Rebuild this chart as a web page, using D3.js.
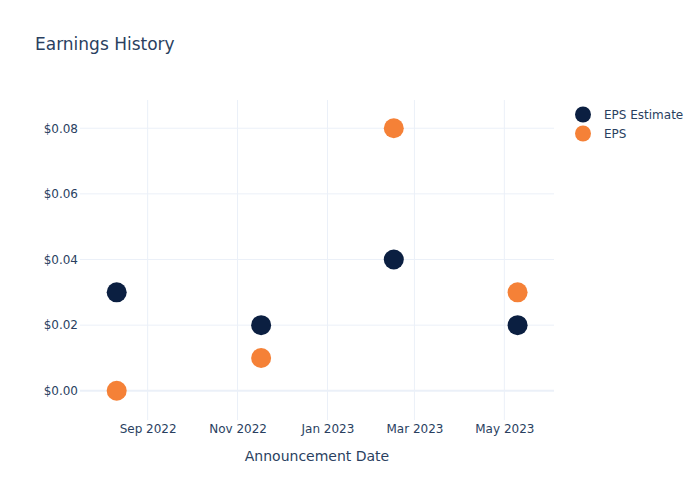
<!DOCTYPE html>
<html><head><meta charset="utf-8">
<script src="https://cdn.jsdelivr.net/npm/d3@7"></script>
<style>body{margin:0;background:#fff}svg{display:block;font-family:"DejaVu Sans",Verdana,sans-serif}</style>
</head><body>
<script>
const dates = ["2022-08-11","2022-11-17","2023-02-15","2023-05-10"];
const epsEstimate = [0.03, 0.02, 0.04, 0.02];
const eps = [0.00, 0.01, 0.08, 0.03];
const seriesNames = ["EPS Estimate","EPS"];
const seriesColors = ["#0b1f41","#f58137"];
const yTicks = [0, 0.02, 0.04, 0.06, 0.08];
const xTicks = ["2022-09-01","2022-11-01","2023-01-01","2023-03-01","2023-05-01"];

const W=700,H=500, L=80, R=554, T=100, B=420;
const parse = d3.utcParse("%Y-%m-%d");
const svg = d3.select("body").append("svg").attr("width",W).attr("height",H);
const dayMs = 864e5;
const sep1 = parse("2022-09-01");
const x = d3.scaleUtc()
  .domain([new Date(+sep1 - 45.9*dayMs), new Date(+sep1 + 275.7*dayMs)])
  .range([L,R]);
const y = d3.scaleLinear().domain([-0.0089,0.0886]).range([B,T]);
const txt = "#2a3f5f", grid="#ebf0f8";

// gridlines
svg.append("g").selectAll("line").data(xTicks).join("line")
  .attr("x1",d=>x(parse(d))).attr("x2",d=>x(parse(d))).attr("y1",T).attr("y2",B)
  .attr("stroke",grid).attr("stroke-width",1);
svg.append("g").selectAll("line").data(yTicks).join("line")
  .attr("x1",L).attr("x2",R).attr("y1",d=>y(d)).attr("y2",d=>y(d))
  .attr("stroke",grid).attr("stroke-width",d=>d===0?2:1);

// axes
const xAxis = svg.append("g").attr("transform",`translate(0,${B})`)
  .call(d3.axisBottom(x).tickValues(xTicks.map(parse)).tickFormat(d3.utcFormat("%b %Y")).tickSize(0).tickPadding(4));
xAxis.select(".domain").remove();
xAxis.selectAll("text").attr("fill",txt).attr("font-size",12).attr("font-family","DejaVu Sans");
const yAxis = svg.append("g").attr("transform",`translate(${L},0)`)
  .call(d3.axisLeft(y).tickValues(yTicks).tickFormat(d=>"$"+d3.format(".2f")(d)).tickSize(0).tickPadding(2));
yAxis.select(".domain").remove();
yAxis.selectAll("text").attr("fill",txt).attr("font-size",12).attr("font-family","DejaVu Sans");

// points
const series=[epsEstimate,eps];
series.forEach((vals,i)=>{
  svg.append("g").selectAll("circle").data(vals).join("circle")
    .attr("cx",(d,j)=>x(parse(dates[j]))).attr("cy",d=>y(d)).attr("r",10)
    .attr("fill",seriesColors[i]);
});

// title
svg.append("text").attr("x",35).attr("y",50).attr("fill",txt).attr("font-size",17).text("Earnings History");
svg.append("text").attr("x",(L+R)/2).attr("y",461).attr("text-anchor","middle").attr("fill",txt).attr("font-size",14).text("Announcement Date");

// legend
const lg = svg.append("g");
seriesNames.forEach((n,i)=>{
  lg.append("circle").attr("cx",583).attr("cy",114.5+i*19).attr("r",8).attr("fill",seriesColors[i]);
  lg.append("text").attr("x",604).attr("y",118.5+i*19).attr("fill",txt).attr("font-size",12).text(n);
});
</script>
</body></html>
